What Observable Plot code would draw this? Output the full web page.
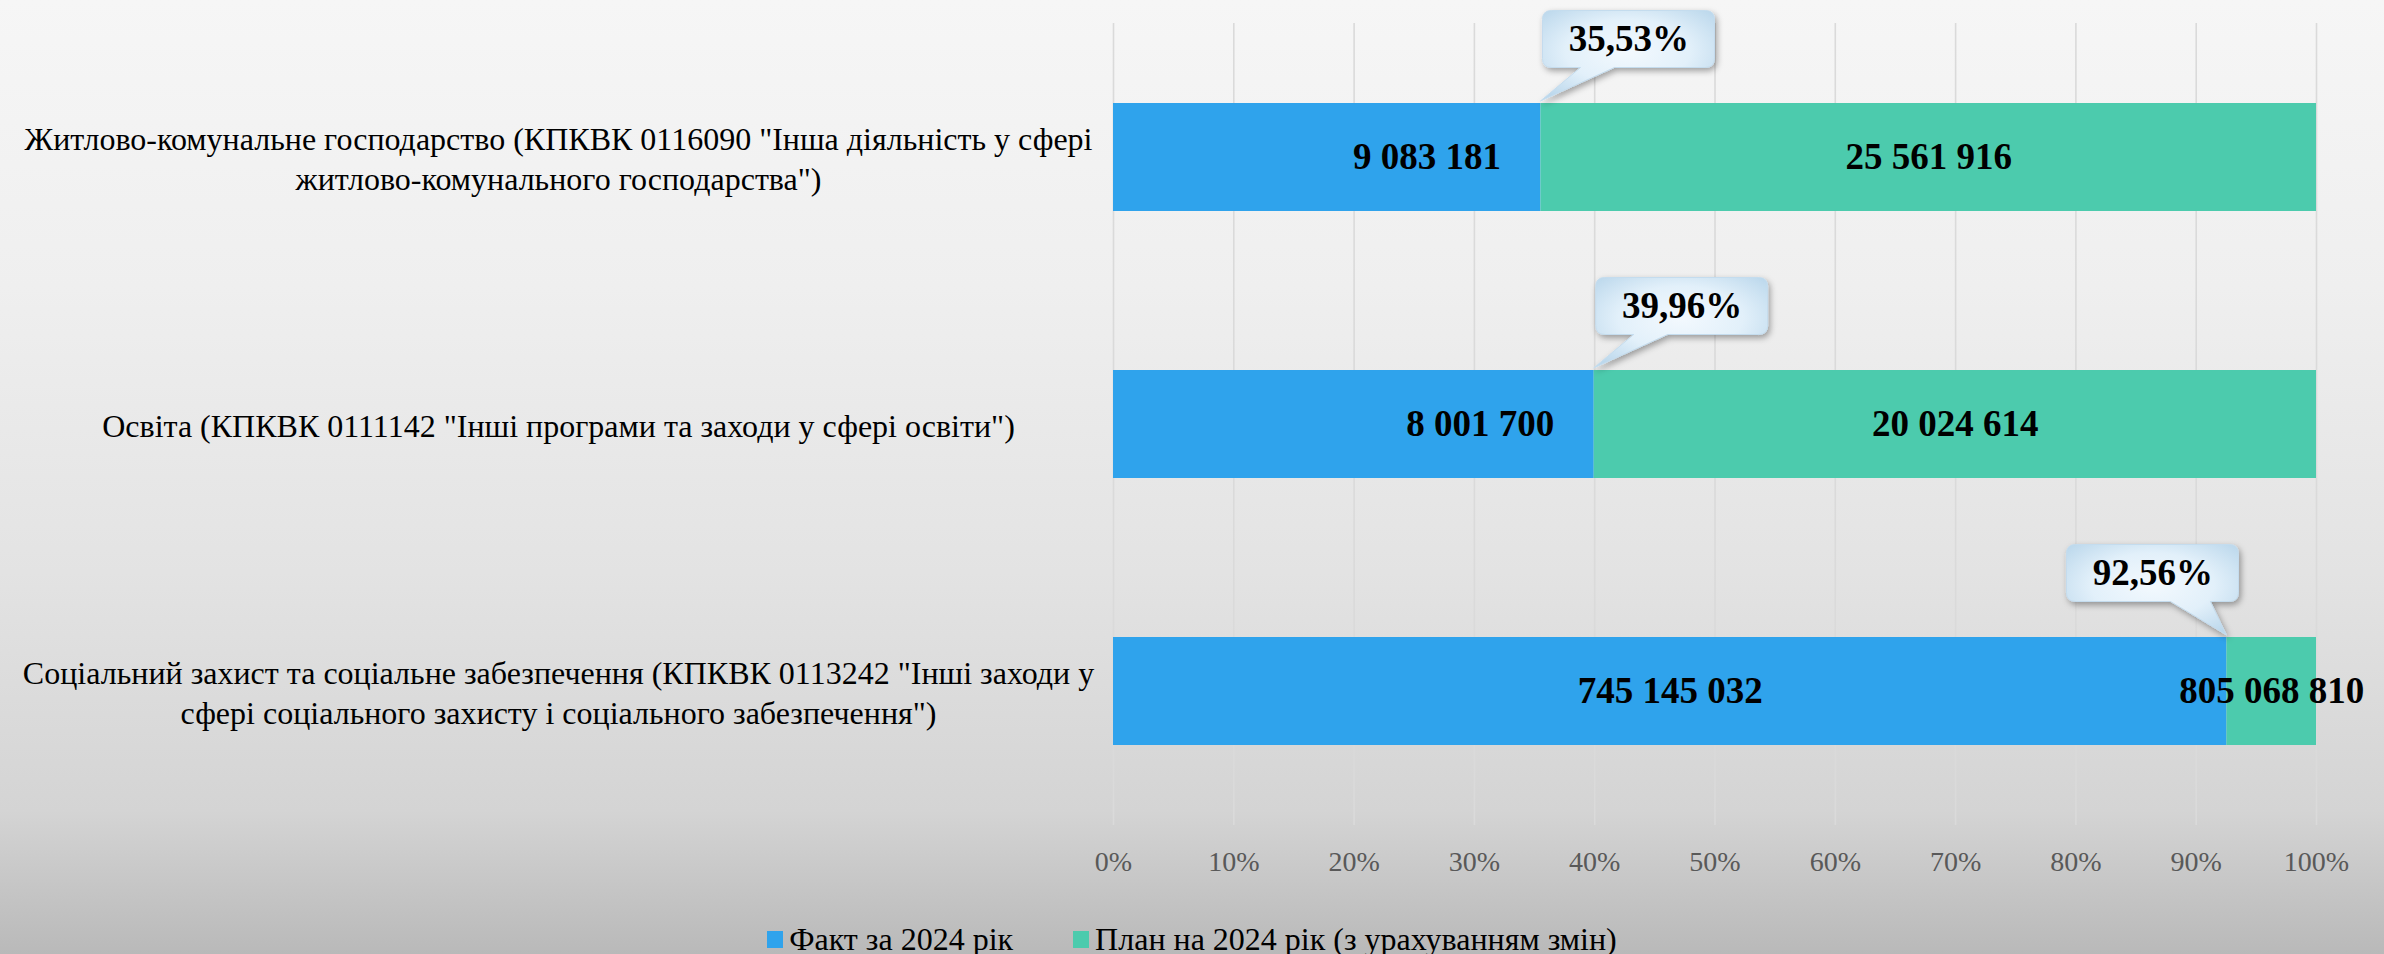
<!DOCTYPE html>
<html>
<head>
<meta charset="utf-8">
<script src="https://cdn.jsdelivr.net/npm/d3@7"></script>
<script src="https://cdn.jsdelivr.net/npm/@observablehq/plot@0.6"></script>
<style>
  html, body { margin: 0; padding: 0; }
  body {
    width: 2384px; height: 954px; overflow: hidden;
    background: linear-gradient(to bottom, #f6f6f6 0%, #efefef 30%, #e3e3e3 60%, #d4d4d4 85%, #b9b9b9 100%);
    font-family: "Liberation Serif", "Times New Roman", serif;
  }
  #legend {
    height: 59px; box-sizing: border-box; padding-top: 29px;
    display: flex; justify-content: center; align-items: center; gap: 60px;
    font-family: "Liberation Serif", "Times New Roman", serif;
    font-size: 32px; color: #000;
  }
  #legend .item { display: flex; align-items: center; gap: 6px; }
  #legend .sw { width: 16px; height: 17px; display: inline-block; }
</style>
</head>
<body>
<div id="chart"></div>
<div id="legend"></div>
<script>
// ---- data ----
const categories = [
  "Житлово-комунальне господарство (КПКВК 0116090 \"Інша діяльність у сфері житлово-комунального господарства\")",
  "Освіта (КПКВК 0111142 \"Інші програми та заходи у сфері освіти\")",
  "Соціальний захист та соціальне забезпечення (КПКВК 0113242 \"Інші заходи у сфері соціального захисту і соціального забезпечення\")"
];
const categoryTickLabels = [
  "Житлово-комунальне господарство (КПКВК 0116090 \"Інша діяльність у сфері\nжитлово-комунального господарства\")",
  "Освіта (КПКВК 0111142 \"Інші програми та заходи у сфері освіти\")",
  "Соціальний захист та соціальне забезпечення (КПКВК 0113242 \"Інші заходи у\nсфері соціального захисту і соціального забезпечення\")"
];
const factValues = [9083181, 8001700, 745145032];
const planValues = [25561916, 20024614, 805068810];
const seriesNames = ["Факт за 2024 рік", "План на 2024 рік (з урахуванням змін)"];
const seriesColors = ["#2fa3ec", "#4ccbad"];
const xTickValues = [0, 0.1, 0.2, 0.3, 0.4, 0.5, 0.6, 0.7, 0.8, 0.9, 1];

// ---- derived table ----
const rows = categories.map((c, i) => ({
  cat: c,
  fact: factValues[i],
  plan: planValues[i],
  share: factValues[i] / planValues[i]
}));
const bars = rows.flatMap(r => [
  {cat: r.cat, series: seriesNames[0], x1: 0, x2: r.share},
  {cat: r.cat, series: seriesNames[1], x1: r.share, x2: 1}
]);
const fmtNum = v => String(v).replace(/\B(?=(\d{3})+(?!\d))/g, " ");
const fmtPct = v => (v * 100).toFixed(2).replace(".", ",") + "%";
const tickLabelOf = new Map(categories.map((c, i) => [c, categoryTickLabels[i]]));
const lowRows = rows.filter(r => r.share < 0.5);
const highRows = rows.filter(r => r.share >= 0.5);

const W = 2384, H = 895;
const RIGHT_OFF = 88, LEFT_OFF = -74, BUB_DY = -118, BUB_W = 172, BUB_H = 57;
const bubbleDx = r => r.share < 0.5 ? RIGHT_OFF : LEFT_OFF;

// callout bubble shapes drawn through the scales
function bubbles(index, scales, values, dimensions, context) {
  const g = d3.create("svg:g");
  const defs = g.append("defs");
  const grad = defs.append("radialGradient").attr("id", "bubGrad").attr("cx", "50%").attr("cy", "45%").attr("r", "65%");
  grad.append("stop").attr("offset", "0%").attr("stop-color", "#f3f9fe");
  grad.append("stop").attr("offset", "55%").attr("stop-color", "#e2f0fa");
  grad.append("stop").attr("offset", "100%").attr("stop-color", "#bcd8ec");
  const f = defs.append("filter").attr("id", "bubShadow").attr("x", "-20%").attr("y", "-20%").attr("width", "150%").attr("height", "160%");
  f.append("feDropShadow").attr("dx", 2).attr("dy", 3).attr("stdDeviation", 3).attr("flood-color", "#000").attr("flood-opacity", 0.35);
  const bw = scales.y.bandwidth ? scales.y.bandwidth() : 108;
  for (const r of rows) {
    const ex = scales.x(r.share);
    const top = scales.y(r.cat);
    const cy = top + bw / 2 + BUB_DY;
    const cx = ex + bubbleDx(r);
    const L = cx - BUB_W / 2, R = cx + BUB_W / 2, T = cy - BUB_H / 2, B = cy + BUB_H / 2, rr = 9;
    let a, b;
    if (r.share < 0.5) { a = L + 38; b = L + 72; } else { a = R - 68; b = R - 28; }
    const tx = ex, ty = top - 2;
    const d = `M${L + rr},${T} H${R - rr} Q${R},${T} ${R},${T + rr} V${B - rr} Q${R},${B} ${R - rr},${B} H${b} L${tx},${ty} L${a},${B} H${L + rr} Q${L},${B} ${L},${B - rr} V${T + rr} Q${L},${T} ${L + rr},${T} Z`;
    g.append("path").attr("d", d).attr("fill", "url(#bubGrad)").attr("stroke", "#c4dcee").attr("stroke-width", 1).attr("filter", "url(#bubShadow)");
  }
  return g.node();
}

const labelStyle = {fontSize: 37, fontWeight: "bold", fill: "#000"};

const chart = Plot.plot({
  width: W,
  height: H,
  marginLeft: 1113,
  marginRight: 68,
  marginTop: 23,
  marginBottom: 70,
  style: {background: "transparent", fontFamily: "'Liberation Serif', 'Times New Roman', serif", overflow: "visible"},
  x: {domain: [0, 1]},
  y: {domain: categories, paddingInner: 0.595, paddingOuter: 0.2975},
  color: {domain: seriesNames, range: seriesColors},
  marks: [
    Plot.gridX(xTickValues, {stroke: "#dadada", strokeOpacity: 1, strokeWidth: 1.6}),
    Plot.axisX(xTickValues, {tickSize: 0, tickPadding: 26, fontSize: 28, fill: "#595959", tickFormat: d => Math.round(d * 100) + "%", label: null}),
    Plot.axisY({tickSize: 0, tickPadding: 0, textAnchor: "middle", dx: -555, fontSize: 32, lineHeight: 1.22, fill: "#000", tickFormat: d => tickLabelOf.get(d), label: null}),
    Plot.barX(bars, {y: "cat", x1: "x1", x2: "x2", fill: "series"}),
    Plot.text(lowRows, {y: "cat", x: "share", text: r => fmtNum(r.fact), textAnchor: "end", dx: -40, ...labelStyle}),
    Plot.text(highRows, {y: "cat", x: r => r.share / 2, text: r => fmtNum(r.fact), textAnchor: "middle", ...labelStyle}),
    Plot.text(rows, {y: "cat", x: r => (r.share + 1) / 2, text: r => fmtNum(r.plan), textAnchor: "middle", ...labelStyle}),
    bubbles,
    Plot.text(lowRows, {y: "cat", x: "share", text: r => fmtPct(r.share), textAnchor: "middle", dx: RIGHT_OFF, dy: BUB_DY, ...labelStyle}),
    Plot.text(highRows, {y: "cat", x: "share", text: r => fmtPct(r.share), textAnchor: "middle", dx: LEFT_OFF, dy: BUB_DY, ...labelStyle})
  ]
});
document.getElementById("chart").appendChild(chart);

// legend
const legend = d3.select("#legend");
seriesNames.forEach((s, i) => {
  const item = legend.append("div").attr("class", "item");
  item.append("span").attr("class", "sw").style("background", seriesColors[i]);
  item.append("span").text(s);
});
</script>
</body>
</html>
